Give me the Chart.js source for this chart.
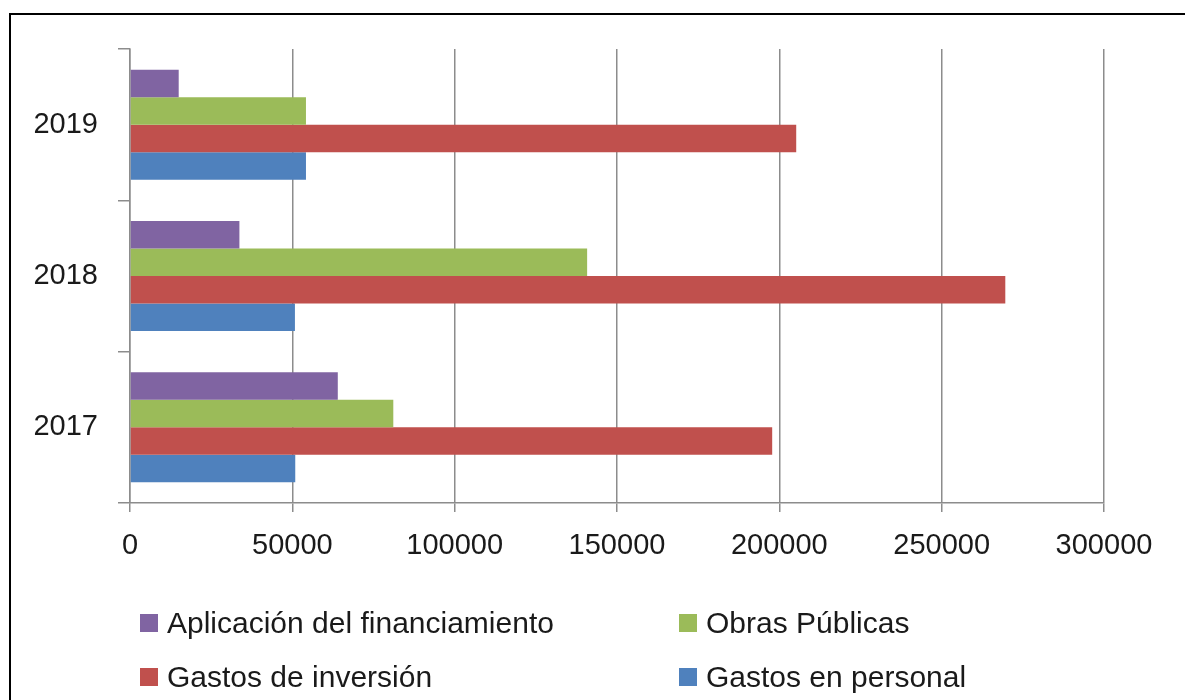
<!DOCTYPE html>
<html>
<head>
<meta charset="utf-8">
<script src="https://cdn.jsdelivr.net/npm/chart.js@4/dist/chart.umd.min.js"></script>
<style>
  html, body { margin: 0; padding: 0; background: #fff; }
  #wrap { position: relative; width: 1185px; height: 700px; overflow: hidden; font-family: "Liberation Sans", Arial, sans-serif; }
  #frame { position: absolute; left: 9px; top: 13px; width: 1200px; height: 720px; border: 2px solid #000; box-sizing: border-box; }
  #chart { position: absolute; left: 0; top: 0; }
  #legend { position: absolute; left: 0; top: 0; width: 1185px; height: 700px; pointer-events: none; }
  .item { position: absolute; display: flex; align-items: center; font-size: 30px; color: #1a1a1a; white-space: nowrap; }
  .item span.box { display: inline-block; width: 18px; height: 18px; margin-right: 9px; }
</style>
</head>
<body>
<div id="wrap">
  <div id="frame"></div>
  <canvas id="chart" width="1185" height="700"></canvas>
  <div id="legend"></div>
</div>
<script>
// Datos
const years = ['2019', '2018', '2017'];
const aplicacion = [15000, 33700, 64000];
const obras = [54200, 140800, 81100];
const inversion = [205200, 269600, 197800];
const personal = [54200, 50800, 50900];
const seriesNames = ['Aplicación del financiamiento', 'Obras Públicas', 'Gastos de inversión', 'Gastos en personal'];
const seriesColors = ['#8064A2', '#9BBB59', '#C0504D', '#4F81BD'];

const FONT = { family: '"Liberation Sans", Arial, sans-serif', size: 29 };
const GRID = '#8c8c8c';

const chart = new Chart(document.getElementById('chart'), {
    type: 'bar',
    data: {
        labels: years,
        datasets: [aplicacion, obras, inversion, personal].map((d, i) => ({
            label: seriesNames[i],
            data: d,
            backgroundColor: seriesColors[i],
            borderWidth: 0,
            categoryPercentage: 0.727,
            barPercentage: 1
        }))
    },
    options: {
        indexAxis: 'y',
        responsive: false,
        animation: false,
        layout: { padding: { top: 49, right: 81, bottom: 137, left: 0 } },
        plugins: { legend: { display: false }, tooltip: { enabled: false } },
        scales: {
            x: {
                min: 0,
                max: 300000,
                ticks: { stepSize: 50000, color: '#1a1a1a', font: FONT, padding: 17, callback: v => String(v) },
                grid: { color: GRID, lineWidth: 1.5, tickLength: 9 },
                border: { color: GRID, width: 1.5 },
                afterFit: s => { s.height = 60; }
            },
            y: {
                ticks: { color: '#1a1a1a', font: FONT, padding: 20 },
                grid: { color: GRID, lineWidth: 1.5, drawOnChartArea: false, tickLength: 12, offset: true },
                border: { color: GRID, width: 1.5 },
                afterFit: s => { s.width = 130; }
            }
        }
    }
});

// Leyenda en dos columnas
const pos = [[140, 623], [679, 623], [140, 677], [679, 677]];
const legend = document.getElementById('legend');
seriesNames.forEach((name, i) => {
    const el = document.createElement('div');
    el.className = 'item';
    el.style.left = pos[i][0] + 'px';
    el.style.top = (pos[i][1] - 17) + 'px';
    el.style.height = '34px';
    el.innerHTML = '<span class="box" style="background:' + seriesColors[i] + '"></span>' + name;
    legend.appendChild(el);
});
</script>
</body>
</html>
